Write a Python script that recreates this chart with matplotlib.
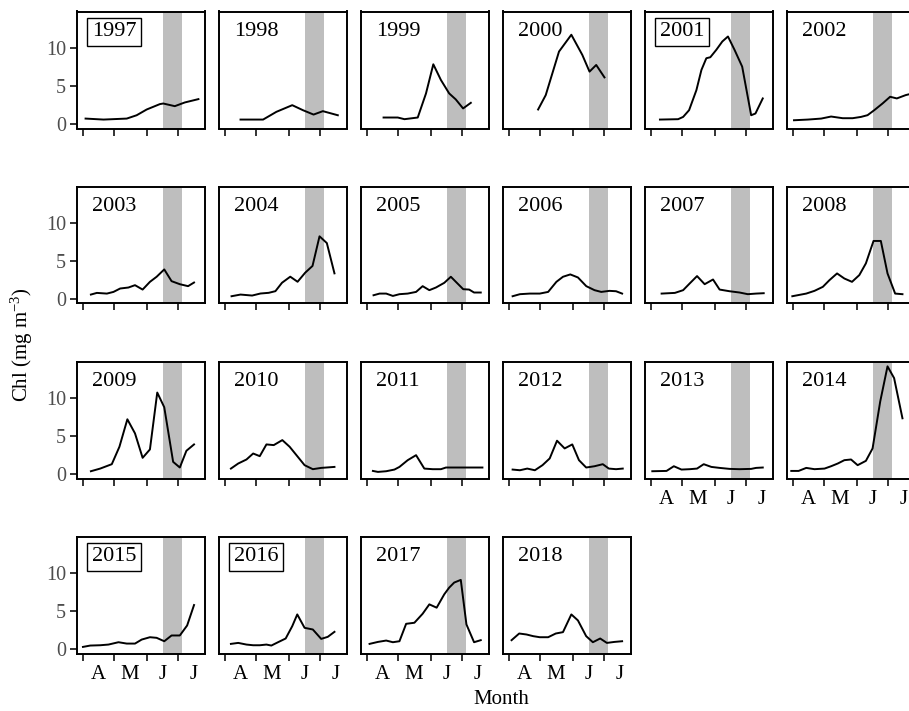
import matplotlib
matplotlib.use("Agg")
import matplotlib.pyplot as plt

plt.rcParams['font.family'] = ['Liberation Serif', 'DejaVu Serif']
plt.rcParams['mathtext.fontset'] = 'custom'
plt.rcParams['mathtext.rm'] = 'Liberation Serif'
plt.rcParams['mathtext.it'] = 'Liberation Serif:italic'

# x values: days after 1 April
years = list(range(1997, 2019))
boxed_years = [1997, 2001, 2015, 2016]
band_start, band_end = 76.2, 95.2
month_ticks = [0, 30, 61, 91]
month_label_pos = [15, 45, 76, 106]
month_labels = ['A', 'M', 'J', 'J']
y_ticks = [0, 5, 10]

d1997 = [2.5, 19.7, 41.9, 51.4, 61, 73.6, 76.8, 87.9, 97.5, 110.5]
c1997 = [0.66, 0.53, 0.66, 1.1, 1.86, 2.57, 2.65, 2.3, 2.79, 3.23]
d1998 = [14.9, 36.5, 49.2, 64.4, 74.6, 84.8, 93.7, 108]
c1998 = [0.53, 0.53, 1.55, 2.43, 1.77, 1.19, 1.64, 1.1]
d1999 = [15.9, 29.5, 35.9, 48.6, 56.5, 63.5, 70.8, 78.7, 85, 92, 99.4]
c1999 = [0.8, 0.8, 0.58, 0.8, 3.98, 7.83, 5.75, 3.98, 3.19, 2.0, 2.74]
d2000 = [27.9, 35.2, 47.9, 59.7, 70.2, 77.1, 83.5, 91.4]
c2000 = [1.86, 3.76, 9.51, 11.73, 9.07, 6.86, 7.74, 6.1]
d2001 = [8.6, 26, 30.8, 36.5, 43.5, 48.3, 53, 56.8, 62.5, 68.3, 73.7, 80, 87.3, 95.9, 100, 107]
c2001 = [0.53, 0.58, 0.88, 1.77, 4.42, 7.08, 8.63, 8.76, 9.73, 10.84, 11.5, 9.73, 7.52, 1.1, 1.33, 3.32]
d2002 = [1, 14.3, 27, 36.5, 47.6, 57.1, 65.1, 71.4, 77.8, 85.7, 93, 99.4, 107.9, 112]
c2002 = [0.44, 0.53, 0.66, 0.93, 0.71, 0.71, 0.88, 1.11, 1.77, 2.65, 3.54, 3.32, 3.76, 3.9]
d2003 = [7.6, 13.3, 22.9, 29.2, 35.6, 43.5, 49.8, 57.1, 64.1, 70.5, 77.8, 84.8, 92.7, 100.6, 106.3]
c2003 = [0.53, 0.75, 0.66, 0.88, 1.33, 1.46, 1.77, 1.19, 2.21, 2.88, 3.85, 2.3, 1.9, 1.64, 2.12]
d2004 = [6.3, 14.9, 26, 34, 41.9, 48.3, 54.6, 62.5, 69.5, 76.8, 83.8, 90.5, 97.5, 104.8]
c2004 = [0.31, 0.53, 0.4, 0.67, 0.76, 0.98, 2.09, 2.89, 2.22, 3.42, 4.31, 8.22, 7.33, 3.33]
d2005 = [6.3, 12.1, 18.4, 24.8, 31.1, 39.0, 47.0, 53.3, 59.7, 66, 74, 80.3, 85.1, 92.1, 97.8, 102.5, 108.9]
c2005 = [0.44, 0.66, 0.66, 0.35, 0.58, 0.66, 0.88, 1.64, 1.11, 1.46, 2.08, 2.88, 2.21, 1.24, 1.19, 0.8, 0.8]
d2006 = [3.5, 10.5, 20, 29.5, 37.5, 45.4, 51.7, 58.7, 66, 74, 81.9, 88.3, 96.2, 102.5, 108.3]
c2006 = [0.31, 0.58, 0.66, 0.66, 0.88, 2.21, 2.88, 3.19, 2.79, 1.64, 1.11, 0.88, 1.02, 0.97, 0.66]
d2007 = [10.2, 22.9, 30.8, 37.1, 44.1, 51.4, 59.4, 65.7, 75.2, 84.8, 92.7, 100.6, 107.9]
c2007 = [0.66, 0.75, 1.11, 2.0, 2.97, 1.9, 2.52, 1.19, 0.97, 0.8, 0.58, 0.66, 0.71]
d2008 = [-0.6, 12.7, 20.6, 28.6, 34.9, 42.2, 49.2, 56.5, 63.5, 69.8, 77.1, 84.1, 90.5, 97.8, 104.8]
c2008 = [0.31, 0.66, 1.02, 1.55, 2.43, 3.32, 2.65, 2.21, 3.1, 4.65, 7.61, 7.61, 3.32, 0.66, 0.58]
d2009 = [7.6, 16.5, 27.6, 34.9, 42.5, 49.8, 57.1, 64.1, 71.1, 77.8, 86.3, 92.7, 99, 106.3]
c2009 = [0.31, 0.66, 1.24, 3.54, 7.17, 5.31, 2.08, 3.19, 10.7, 8.76, 1.55, 0.8, 3.01, 3.85]
d2010 = [5.7, 12.7, 20.6, 27, 33.3, 39.7, 46.7, 54.9, 61.9, 69.2, 76.2, 84.1, 92.1, 104.8]
c2010 = [0.66, 1.33, 1.86, 2.65, 2.3, 3.85, 3.76, 4.42, 3.54, 2.3, 1.11, 0.58, 0.75, 0.88]
d2011 = [5.7, 10.5, 18.4, 26.3, 31.1, 39, 47, 54.9, 62.9, 70.8, 75.6, 85, 110.5]
c2011 = [0.35, 0.22, 0.31, 0.53, 0.88, 1.77, 2.43, 0.66, 0.58, 0.58, 0.8, 0.8, 0.8]
d2012 = [3.5, 10.5, 17.5, 24.8, 32.1, 39, 46, 53.3, 60.6, 67, 73.9, 81.9, 89.8, 95.6, 102.5, 108.9]
c2012 = [0.53, 0.44, 0.66, 0.44, 1.11, 2.0, 4.34, 3.32, 3.85, 1.77, 0.8, 0.97, 1.24, 0.66, 0.58, 0.66]
d2013 = [1.3, 14.9, 21.9, 29.2, 37.1, 44.1, 50.5, 57.8, 65.7, 75.2, 84.8, 95.9, 100.6, 107]
c2013 = [0.31, 0.35, 0.97, 0.53, 0.58, 0.66, 1.24, 0.88, 0.75, 0.62, 0.58, 0.62, 0.75, 0.8]
d2014 = [-1.6, 5.4, 12.7, 20.6, 30.2, 36.5, 42.9, 49.2, 55.6, 61.9, 69.8, 76.2, 83.5, 90.5, 96.8, 104.8]
c2014 = [0.35, 0.35, 0.75, 0.58, 0.66, 0.97, 1.33, 1.77, 1.86, 1.11, 1.68, 3.32, 9.51, 14.16, 12.61, 7.3]
d2015 = [0, 7, 16.5, 24.4, 34, 41.9, 49.8, 56.2, 64.1, 70.5, 77.8, 84.8, 92.7, 99.7, 106.3]
c2015 = [0.22, 0.4, 0.44, 0.53, 0.84, 0.66, 0.66, 1.19, 1.5, 1.42, 0.97, 1.73, 1.73, 3.05, 5.75]
d2016 = [5.7, 12.7, 20.6, 27, 33.3, 39.7, 44.4, 50.8, 58.1, 64.4, 69.2, 76.2, 84.1, 92.1, 98.4, 104.8]
c2016 = [0.62, 0.75, 0.53, 0.44, 0.44, 0.53, 0.4, 0.84, 1.33, 2.96, 4.51, 2.74, 2.52, 1.28, 1.55, 2.21]
d2017 = [2.5, 10.5, 18.4, 24.8, 31.1, 37.5, 45.4, 53.3, 59.7, 66.7, 74, 78.7, 83.5, 89.8, 95.2, 102.5, 108.9]
c2017 = [0.62, 0.88, 1.06, 0.84, 0.97, 3.27, 3.41, 4.6, 5.84, 5.4, 7.17, 8.05, 8.72, 9.07, 3.19, 0.84, 1.11]
d2018 = [2.5, 9.8, 16.8, 23.2, 29.5, 37.5, 44.8, 51.7, 59.7, 66, 73.9, 80.3, 87.3, 93.7, 101, 108.3]
c2018 = [1.11, 1.99, 1.86, 1.64, 1.5, 1.5, 1.99, 2.17, 4.51, 3.72, 1.64, 0.84, 1.33, 0.75, 0.88, 0.97]

g = globals()
series = {y: (g['d%d' % y], g['c%d' % y]) for y in years}

W, H = 909, 711
fig = plt.figure(figsize=(W / 100, H / 100), dpi=100)

ncol = 6
col_left0, col_step, pw = 77, 142, 128
row_top0, row_step, ph = 11.5, 175, 117
tick_col = '#333333'

for i, yr in enumerate(years):
    r, c = divmod(i, ncol)
    left = col_left0 + c * col_step
    top = row_top0 + r * row_step
    ax = fig.add_axes([left / W, 1 - (top + ph) / H, pw / W, ph / H])
    ax.axvspan(band_start, band_end, color='#BEBEBE', lw=0, zorder=1)
    d, v = series[yr]
    ax.plot(d, v, color='black', lw=1.4, zorder=3)
    ax.set_xlim(-5.7, 116.8)
    ax.set_ylim(-0.65, 14.8)
    for s in ax.spines.values():
        s.set_linewidth(1.4)
        s.set_color('black')
    ax.set_xticks(month_ticks)
    ax.set_xticklabels([''] * 4)
    ax.tick_params(axis='x', which='major', length=5, width=1.4, color=tick_col)
    has_below = (i + ncol) < len(years)
    if not has_below:
        ax.set_xticks(month_label_pos, minor=True)
        ax.set_xticklabels(month_labels, minor=True)
        ax.tick_params(axis='x', which='minor', length=0, pad=8,
                       labelsize=15, labelcolor='black')
    if c == 0:
        ax.set_yticks(y_ticks)
        ax.set_yticklabels([str(t) for t in y_ticks])
        ax.tick_params(axis='y', length=5, width=1.4, color=tick_col,
                       labelsize=14.5, labelcolor='#4D4D4D', pad=3)
    else:
        ax.set_yticks([])
    kw = dict(transform=ax.transAxes, fontsize=16, va='center', ha='left', zorder=5)
    if yr in boxed_years:
        kw['bbox'] = dict(boxstyle='square,pad=0.2', fc='white', ec='black', lw=1.0)
    ax.text(0.115, 0.828, str(yr), **kw)

fig.text(0.024, 1 - 345 / H, 'Chl (mg m$^{-3}$)', rotation=90, va='center', ha='center', fontsize=15)
fig.text(501.7 / W, 1 - 699 / H, 'Month', va='center', ha='center', fontsize=15)

fig.savefig('out.png', dpi=100)
